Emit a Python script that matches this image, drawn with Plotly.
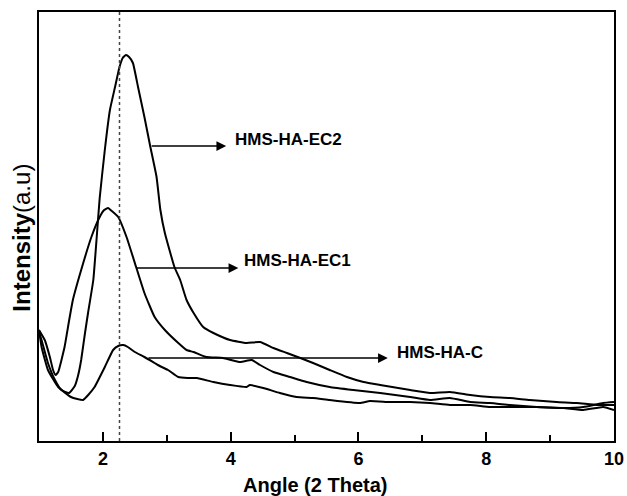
import plotly.graph_objects as go

# ---- data ----
ec2_theta = [1.00, 1.04, 1.14, 1.25, 1.35, 1.47, 1.56, 1.61, 1.66, 1.72, 1.77, 1.85, 1.90, 1.95,
             2.03, 2.11, 2.19, 2.26, 2.31, 2.36, 2.41, 2.47, 2.55, 2.65, 2.74, 2.84, 2.90, 2.97,
             3.12, 3.21, 3.31, 3.42, 3.57, 3.73, 3.99, 4.25, 4.46, 4.67, 4.88, 5.09, 5.29, 5.55,
             5.82, 6.08, 6.34, 6.81, 7.12, 7.43, 7.75, 8.06, 8.37, 8.68, 9.10, 9.42, 9.73, 10.00]
ec2_int = [109, 101, 78, 61, 51, 48, 55, 65, 81, 108, 129, 161, 201, 243,
           291, 331, 354, 374, 383, 386, 384, 378, 354, 324, 295, 264, 231, 208,
           174, 161, 141, 128, 114, 108, 101, 98, 99, 93, 88, 83, 78, 71,
           64, 59, 56, 51, 48, 49, 46, 44, 43, 41, 39, 38, 36, 36]

ec1_theta = [1.00, 1.09, 1.17, 1.22, 1.26, 1.30, 1.40, 1.47, 1.53, 1.66, 1.82, 1.95, 2.02, 2.08,
             2.14, 2.24, 2.37, 2.52, 2.65, 2.81, 2.97, 3.18, 3.31, 3.42, 3.62, 3.88, 4.15, 4.33,
             4.46, 4.67, 4.93, 5.19, 5.55, 5.92, 6.34, 6.81, 7.12, 7.43, 7.75, 8.06, 8.37, 8.79,
             9.21, 9.52, 9.83, 10.00]
ec1_int = [111, 101, 84, 71, 66, 69, 94, 120, 141, 171, 204, 224, 231, 233,
           230, 224, 204, 174, 148, 124, 111, 98, 91, 89, 84, 83, 79, 81,
           76, 69, 64, 59, 54, 51, 48, 44, 41, 43, 39, 38, 36, 34,
           33, 31, 34, 31]

c_theta = [1.00, 1.04, 1.14, 1.30, 1.50, 1.60, 1.69, 1.77, 1.87, 2.03, 2.16, 2.24, 2.32, 2.39,
           2.50, 2.65, 2.81, 2.89, 3.02, 3.18, 3.33, 3.47, 3.73, 3.99, 4.25, 4.30, 4.51, 4.77,
           5.03, 5.29, 5.55, 6.02, 6.18, 6.49, 6.81, 7.12, 7.43, 7.75, 8.06, 8.37, 8.79, 9.21,
           9.52, 9.83, 10.00]
c_int = [111, 94, 71, 54, 44, 42, 41, 46, 54, 74, 91, 95, 96, 94,
         89, 84, 78, 75, 71, 64, 63, 63, 59, 56, 54, 56, 53, 48,
         44, 43, 41, 38, 40, 39, 39, 38, 36, 36, 34, 34, 34, 33,
         34, 38, 39]

series_names = ["HMS-HA-EC2", "HMS-HA-EC1", "HMS-HA-C"]
x_ticks = [2, 4, 6, 8, 10]
x_minor_ticks = [3, 5, 7, 9]
ref_line_theta = 2.26

FONT = "Liberation Sans, Arial, sans-serif"

fig = go.Figure()
for name, xs, ys in zip(series_names, [ec2_theta, ec1_theta, c_theta], [ec2_int, ec1_int, c_int]):
    fig.add_trace(go.Scatter(x=xs, y=ys, mode="lines", name=name,
                             line=dict(color="black", width=2, shape="spline", smoothing=0.4),
                             showlegend=False, hoverinfo="skip"))

# dotted vertical reference line
fig.add_shape(type="line", xref="x", yref="paper", x0=ref_line_theta, x1=ref_line_theta,
              y0=0, y1=1, line=dict(color="#444444", width=1.5, dash="dot"))

# arrows (tail -> head) and labels
arrows = [
    # (tail_x, head_x, y, label_x, label_y, text)
    (2.74, 3.93, 295, 4.03, 302, series_names[0]),
    (2.50, 4.12, 173, 4.18, 181, series_names[1]),
    (2.69, 6.46, 83, 6.57, 89, series_names[2]),
]
for tx, hx, yy, lx, ly, txt in arrows:
    fig.add_annotation(x=hx, y=yy, ax=tx, ay=yy, xref="x", yref="y", axref="x", ayref="y",
                       showarrow=True, arrowhead=2, arrowsize=1.3, arrowwidth=1.5,
                       arrowcolor="black", text="")
    fig.add_annotation(x=lx, y=ly, xref="x", yref="y", showarrow=False, text=txt,
                       xanchor="left", yanchor="middle",
                       font=dict(family=FONT, size=17, color="black", weight=700))

# axis titles as annotations
fig.add_annotation(x=0.48, y=-0.103, xref="paper", yref="paper", showarrow=False,
                   text="Angle (2 Theta)", xanchor="center", yanchor="middle",
                   font=dict(family=FONT, size=20, color="black", weight=700))
fig.add_annotation(x=0, y=0.474, xref="paper", yref="paper", showarrow=False, xshift=-17,
                   text="<b>Intensity</b>(a.u)", textangle=-90, xanchor="center", yanchor="middle",
                   font=dict(family=FONT, size=24, color="black"))

fig.update_layout(
    width=627, height=496, autosize=False,
    margin=dict(l=39, r=13, t=12, b=55, pad=0, autoexpand=False),
    plot_bgcolor="white", paper_bgcolor="white",
    xaxis=dict(range=[1, 10], tickvals=x_ticks, ticktext=[str(v) for v in x_ticks],
               ticks="inside", ticklen=9, tickwidth=1.5, tickcolor="black",
               minor=dict(tickvals=x_minor_ticks, ticks="inside", ticklen=6, tickwidth=1.5,
                          tickcolor="black", showgrid=False),
               showline=True, linecolor="black", linewidth=2, mirror=True,
               showgrid=False, zeroline=False, automargin=False,
               tickfont=dict(family=FONT, size=18, color="black", weight=700)),
    yaxis=dict(range=[0, 429], showticklabels=False, ticks="",
               showline=True, linecolor="black", linewidth=2, mirror=True,
               showgrid=False, zeroline=False, automargin=False),
)

fig.write_html("out.html", config={"displayModeBar": False, "responsive": False},
               post_script="document.body.style.margin='0';document.body.style.overflow='hidden';")
